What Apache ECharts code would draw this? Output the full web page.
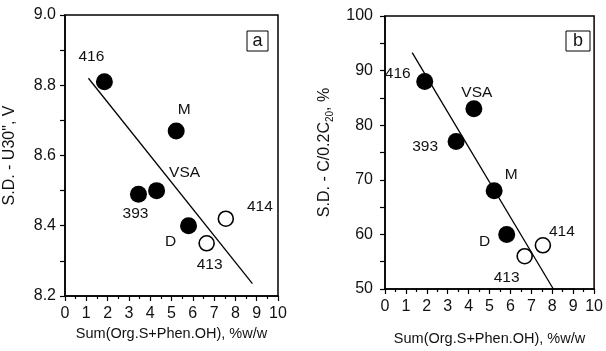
<!DOCTYPE html>
<html>
<head>
<meta charset="utf-8">
<script src="https://cdn.jsdelivr.net/npm/echarts@6/dist/echarts.min.js"></script>
<style>
  html, body { margin: 0; padding: 0; background: #fff; }
  #chart { width: 606px; height: 351px; }
</style>
</head>
<body>
<div id="chart"></div>
<script>
var dom = document.getElementById("chart");
var myChart = echarts.init(dom);

// x ticks
var xTicks = [0, 1, 2, 3, 4, 5, 6, 7, 8, 9, 10];

// panel a : S.D. - U30", V
var aNames = ['416', 'M', 'VSA', '393', 'D', '413', '414'];
var aX = [1.85, 5.22, 4.3, 3.45, 5.8, 6.65, 7.55];
var aY = [8.81, 8.67, 8.50, 8.49, 8.40, 8.35, 8.42];
var aOpen = [false, false, false, false, false, true, true];
var aFitX = [1.1, 8.8];
var aFitY = [8.82, 8.235];

// panel b : S.D. - C/0.2C20, %
var bNames = ['416', 'VSA', '393', 'M', 'D', '413', '414'];
var bX = [1.9, 4.25, 3.4, 5.22, 5.82, 6.68, 7.55];
var bY = [88, 83, 77, 68, 60, 56, 58];
var bOpen = [false, false, false, false, false, true, true];
var bFitX = [1.3, 8.05];
var bFitY = [93.3, 50];

// label offsets (px) relative to each point
var aOffsets = [[-13, -25], [8, -21], [28, -18], [-3, 20], [-18, 16], [3, 21], [34, -12]];
var bOffsets = [[-27, -8], [3, -16], [-31, 5], [17, -16], [-22, 7], [-18, 21], [19, -14]];

var font = 'Liberation Sans, Arial, sans-serif';
var ink = '#111';

function points(xs, ys, names, open, offsets, wantOpen) {
	var out = [];
	for (var i = 0; i < xs.length; i++) {
		if (open[i] !== wantOpen) continue;
		out.push({
			name: names[i],
			value: [xs[i], ys[i]],
			label: { offset: offsets[i] }
		});
	}
	return out;
}

function fitLine(xs, ys) {
	var out = [];
	for (var i = 0; i < xs.length; i++) out.push([xs[i], ys[i]]);
	return out;
}

function xAxisFor(idx) {
	return {
		gridIndex: idx,
		type: 'value',
		min: xTicks[0],
		max: xTicks[xTicks.length - 1],
		interval: 1,
		name: 'Sum(Org.S+Phen.OH), %w/w',
		nameLocation: 'middle',
		nameGap: idx === 0 ? 25 : 42,
		nameTextStyle: { fontFamily: font, fontSize: 14.5, color: ink },
		axisLine: { show: true, onZero: false, lineStyle: { color: '#000', width: 1.5 } },
		axisTick: { show: true, length: 5, lineStyle: { color: '#000', width: 1.2 } },
		minorTick: { show: true, splitNumber: 2, length: 3, lineStyle: { color: '#000', width: 1.2 } },
		axisLabel: { fontFamily: font, fontSize: 16, color: ink, margin: 10 },
		splitLine: { show: false }
	};
}

var labelStyle = {
	show: true,
	position: 'inside',
	formatter: '{b}',
	fontFamily: font,
	fontSize: 15.5,
	color: ink
};

option = {
	backgroundColor: '#fff',
	animation: false,
	grid: [
		{ left: 65, right: 328, top: 15, bottom: 55, show: true, borderColor: '#000', borderWidth: 1.5 },
		{ left: 385, right: 8, top: 16, bottom: 54, show: true, borderColor: '#000', borderWidth: 1.5 }
	],
	xAxis: [xAxisFor(0), xAxisFor(1)],
	yAxis: [{
		gridIndex: 0,
		type: 'value',
		min: 8.2,
		max: 9.0,
		interval: 0.2,
		name: 'S.D. - U30", V',
		nameLocation: 'middle',
		nameGap: 47,
		nameTextStyle: { fontFamily: font, fontSize: 16, color: ink },
		axisLine: { show: true, onZero: false, lineStyle: { color: '#000', width: 1.5 } },
		axisTick: { show: true, length: 5, lineStyle: { color: '#000', width: 1.2 } },
		minorTick: { show: true, splitNumber: 2, length: 5, lineStyle: { color: '#000', width: 1.2 } },
		axisLabel: {
			fontFamily: font, fontSize: 16, color: ink, margin: 9,
			formatter: function(v) { return v.toFixed(1); }
		},
		splitLine: { show: false }
	}, {
		gridIndex: 1,
		type: 'value',
		min: 50,
		max: 100,
		interval: 10,
		name: 'S.D. - C/0.2C{sub|20}, %',
		nameLocation: 'middle',
		nameGap: 50,
		nameTextStyle: {
			fontFamily: font, fontSize: 16, color: ink,
			rich: { sub: { fontFamily: font, fontSize: 10, color: ink, padding: [10, 0, 0, 0] } }
		},
		axisLine: { show: true, onZero: false, lineStyle: { color: '#000', width: 1.5 } },
		axisTick: { show: true, length: 5, lineStyle: { color: '#000', width: 1.2 } },
		minorTick: { show: true, splitNumber: 2, length: 5, lineStyle: { color: '#000', width: 1.2 } },
		axisLabel: { fontFamily: font, fontSize: 16, color: ink, margin: 12 },
		splitLine: { show: false }
	}],
	graphic: [
		{ type: 'rect', shape: { x: 247, y: 31, width: 21, height: 20 }, style: { fill: '#fff', stroke: '#000', lineWidth: 1 } },
		{ type: 'text', x: 257.5, y: 41, style: { text: 'a', font: '18px ' + font, fill: ink, textAlign: 'center', textVerticalAlign: 'middle' } },
		{ type: 'rect', shape: { x: 566, y: 31, width: 24, height: 20 }, style: { fill: '#fff', stroke: '#000', lineWidth: 1 } },
		{ type: 'text', x: 578, y: 41, style: { text: 'b', font: '18px ' + font, fill: ink, textAlign: 'center', textVerticalAlign: 'middle' } }
	],
	series: [
		{
			type: 'line', xAxisIndex: 0, yAxisIndex: 0,
			data: fitLine(aFitX, aFitY), symbol: 'none',
			lineStyle: { color: '#000', width: 1.3 }
		},
		{
			type: 'scatter', xAxisIndex: 0, yAxisIndex: 0,
			data: points(aX, aY, aNames, aOpen, aOffsets, false),
			symbolSize: 17, itemStyle: { color: '#000', opacity: 1 },
			label: labelStyle
		},
		{
			type: 'scatter', xAxisIndex: 0, yAxisIndex: 0,
			data: points(aX, aY, aNames, aOpen, aOffsets, true),
			symbolSize: 15, itemStyle: { color: '#fff', borderColor: '#000', borderWidth: 1.6, opacity: 1 },
			label: labelStyle
		},
		{
			type: 'line', xAxisIndex: 1, yAxisIndex: 1,
			data: fitLine(bFitX, bFitY), symbol: 'none',
			lineStyle: { color: '#000', width: 1.3 }
		},
		{
			type: 'scatter', xAxisIndex: 1, yAxisIndex: 1,
			data: points(bX, bY, bNames, bOpen, bOffsets, false),
			symbolSize: 17, itemStyle: { color: '#000', opacity: 1 },
			label: labelStyle
		},
		{
			type: 'scatter', xAxisIndex: 1, yAxisIndex: 1,
			data: points(bX, bY, bNames, bOpen, bOffsets, true),
			symbolSize: 15, itemStyle: { color: '#fff', borderColor: '#000', borderWidth: 1.6, opacity: 1 },
			label: labelStyle
		}
	]
};
if (option && typeof option === "object") {
	myChart.setOption(option, true);
}
</script>
</body>
</html>
